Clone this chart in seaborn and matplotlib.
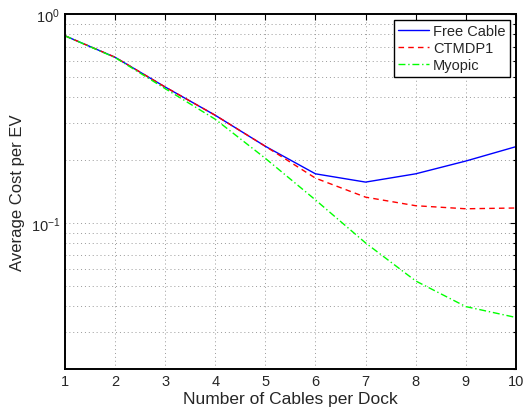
import matplotlib
matplotlib.use("Agg")
import matplotlib.pyplot as plt
import seaborn as sns
import pandas as pd
import numpy as np
from matplotlib.ticker import LogLocator, NullFormatter

cables = [1, 2, 3, 4, 5, 6, 7, 8, 9, 10]
free_cable = [0.788, 0.622, 0.448, 0.328, 0.233, 0.172, 0.157, 0.172, 0.198, 0.232]
ctmdp1 = [0.788, 0.622, 0.448, 0.328, 0.233, 0.164, 0.133, 0.121, 0.117, 0.118]
myopic = [0.788, 0.620, 0.440, 0.314, 0.204, 0.129, 0.0803, 0.0528, 0.0398, 0.0353]
series_names = ["Free Cable", "CTMDP1", "Myopic"]

df = pd.DataFrame({
    "x": cables * 3,
    "y": free_cable + ctmdp1 + myopic,
    "series": [series_names[0]] * 10 + [series_names[1]] * 10 + [series_names[2]] * 10,
})

sns.set_style("white")
plt.rcParams['font.family'] = ['Liberation Sans', 'DejaVu Sans']
plt.rcParams['mathtext.fontset'] = 'custom'
plt.rcParams['mathtext.rm'] = 'Liberation Sans'

fig = plt.figure(figsize=(5.28, 4.10), dpi=100)
ax = fig.add_axes([0.123, 0.0976, 0.854, 0.8654])

palette = {"Free Cable": "#0000ff", "CTMDP1": "#ff0000", "Myopic": "#00ff00"}
sns.lineplot(data=df, x="x", y="y", hue="series", style="series",
             palette=palette, dashes={"Free Cable": "", "CTMDP1": (4, 3), "Myopic": (5, 2, 1, 2)},
             linewidth=1.0, ax=ax, legend=True)

ax.set_yscale("log")
ax.set_xlim(1, 10)
ax.set_ylim(0.02, 1)
ax.set_xticks(cables)
ax.set_xticklabels([str(c) for c in cables])
ax.yaxis.set_major_locator(LogLocator(base=10, numticks=10))
ax.yaxis.set_minor_locator(LogLocator(base=10, subs=np.arange(2, 10), numticks=10))
ax.yaxis.set_minor_formatter(NullFormatter())

grid_kw = dict(linestyle=(0, (1, 3)), color="#999999", linewidth=0.7)
ax.grid(True, which="major", **grid_kw)
ax.grid(True, which="minor", axis="y", **grid_kw)
ax.tick_params(which="both", direction="in", top=True, right=True, labelsize=10.5, color="black")
ax.tick_params(which="major", length=4, width=0.8)
ax.tick_params(which="minor", length=2, width=0.8)
for s in ax.spines.values():
    s.set_color("black")
    s.set_linewidth(1.4)

ax.set_xlabel("Number of Cables per Dock", fontsize=12.5, labelpad=2)
ax.set_ylabel("Average Cost per EV", fontsize=12, labelpad=4)

leg = ax.legend(loc="upper right", fontsize=10.5, frameon=True, fancybox=False,
                edgecolor="black", borderaxespad=0.4, handlelength=2.1, handletextpad=0.3,
                labelspacing=0.2, borderpad=0.3)
leg.get_frame().set_linewidth(1.0)
leg.get_frame().set_alpha(1)

fig.savefig("out.png", dpi=100)
